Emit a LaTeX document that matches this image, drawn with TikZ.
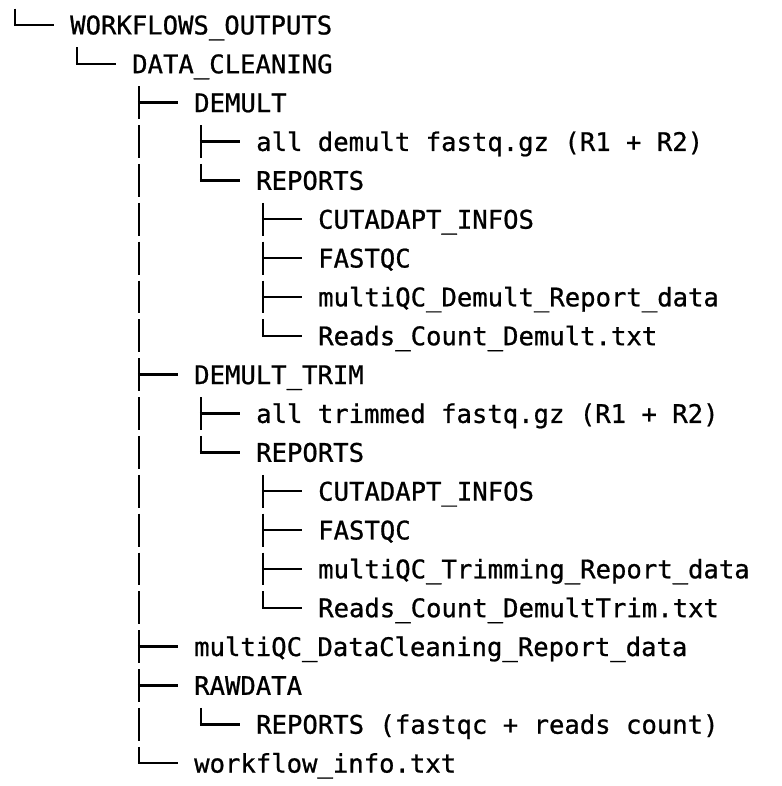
\documentclass[tikz,border=0pt]{standalone}
\usepackage{fontspec}
\newfontfamily\treefont[FakeBold=0.8]{DejaVu Sans Mono}
\usetikzlibrary{calc}
\tikzset{
  item/.style={anchor=base west, inner sep=0pt, font=\treefont\fontsize{25.6}{30}\selectfont, text=black},
  trunk/.style={draw=black, line width=2.4pt, dash pattern=on 32.85pt off 6pt},
  twig/.style={draw=black, line width=2.4pt}
}
\newcommand\entry[4]{%
  \node[item] (#1) at ({70+62*#2},{25+38.85*#3+9.4}) {#4};
  \coordinate (#1-m) at ({54+62*#2},{25+38.85*#3});
  \coordinate (#1-t) at ({15+62*#2},{25+38.85*#3-16.4});
}
% \kids{parent}{first child}{last child}{list of children}
\newcommand\kids[4]{%
  \draw[trunk] ([xshift=7pt]#1.base west |- #2-t) -- ([xshift=7pt]#1.base west |- #3-m);
  \foreach \c in {#4}{\draw[twig] ([xshift=5.8pt]#1.base west |- \c-m) -- (\c-m);}
}
\begin{document}
\begin{tikzpicture}[x=1pt,y=-1pt]
\useasboundingbox (0,0) rectangle (781,786);
\entry{wo}{0}{0}{WORKFLOWS\_OUTPUTS}
\entry{dc}{1}{1}{DATA\_CLEANING}
\entry{dm}{2}{2}{DEMULT}
\entry{dmf}{3}{3}{all demult fastq.gz (R1 + R2)}
\entry{dmr}{3}{4}{REPORTS}
\entry{dmrc}{4}{5}{CUTADAPT\_INFOS}
\entry{dmrf}{4}{6}{FASTQC}
\entry{dmrm}{4}{7}{multiQC\_Demult\_Report\_data}
\entry{dmrr}{4}{8}{Reads\_Count\_Demult.txt}
\entry{dt}{2}{9}{DEMULT\_TRIM}
\entry{dtf}{3}{10}{all trimmed fastq.gz (R1 + R2)}
\entry{dtr}{3}{11}{REPORTS}
\entry{dtrc}{4}{12}{CUTADAPT\_INFOS}
\entry{dtrf}{4}{13}{FASTQC}
\entry{dtrm}{4}{14}{multiQC\_Trimming\_Report\_data}
\entry{dtrr}{4}{15}{Reads\_Count\_DemultTrim.txt}
\entry{mq}{2}{16}{multiQC\_DataCleaning\_Report\_data}
\entry{rd}{2}{17}{RAWDATA}
\entry{rdr}{3}{18}{REPORTS (fastqc + reads count)}
\entry{wi}{2}{19}{workflow\_info.txt}
% root branch
\draw[trunk] (wo-t) -- (wo-t |- wo-m);
\draw[twig] ([xshift=-1.2pt]wo-t |- wo-m) -- (wo-m);
% children
\kids{wo}{dc}{dc}{dc}
\kids{dc}{dm}{wi}{dm,dt,mq,rd,wi}
\kids{dm}{dmf}{dmr}{dmf,dmr}
\kids{dmr}{dmrc}{dmrr}{dmrc,dmrf,dmrm,dmrr}
\kids{dt}{dtf}{dtr}{dtf,dtr}
\kids{dtr}{dtrc}{dtrr}{dtrc,dtrf,dtrm,dtrr}
\kids{rd}{rdr}{rdr}{rdr}
\end{tikzpicture}
\end{document}
